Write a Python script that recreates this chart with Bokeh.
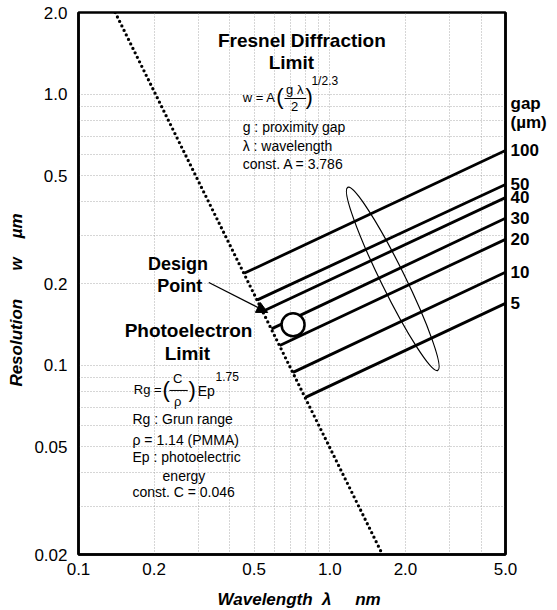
from bokeh.plotting import figure
from bokeh.models import FixedTicker, Label, Arrow, NormalHead, LogAxis
from bokeh.embed import file_html
from bokeh.resources import INLINE

# ---------------- data ----------------
gap_labels = ["100", "50", "40", "30", "20", "10", "5"]
gap_lambda_start = [0.456, 0.515, 0.542, 0.586, 0.632, 0.714, 0.800]
gap_w_start = [0.218, 0.174, 0.158, 0.136, 0.118, 0.094, 0.076]
gap_lambda_end = [5.0, 5.0, 5.0, 5.0, 5.0, 5.0, 5.0]
gap_w_end = [0.619, 0.464, 0.415, 0.348, 0.291, 0.220, 0.169]
gap_header = ["gap", "(µm)"]
gap_header_w = [0.923, 0.785]

photo_lambda = [0.14, 1.62]
photo_w = [2.0, 0.02]

design_lambda = [0.714]
design_w = [0.141]

ellipse_lambda = [1.78]
ellipse_w = [0.208]

arrow_start = (0.330, 0.2017)
arrow_end = (0.566, 0.1563)

x_major = [0.1, 0.2, 0.5, 1.0, 2.0, 5.0]
x_labels = ["0.1", "0.2", "0.5", "1.0", "2.0", "5.0"]
x_minor = [0.3, 0.4, 0.6, 0.7, 0.8, 0.9, 3.0, 4.0]
y_major = [0.02, 0.05, 0.1, 0.2, 0.5, 1.0, 2.0]
y_labels = ["0.02", "0.05", "0.1", "0.2", "0.5", "1.0", "2.0"]
y_minor = [0.03, 0.04, 0.06, 0.07, 0.08, 0.09, 0.3, 0.4, 0.6, 0.7, 0.8, 0.9]

FONT = "Liberation Sans"
NB = "\u00a0"

p = figure(x_axis_type="log", y_axis_type="log",
           x_range=(0.1, 5.0), y_range=(0.02, 2.0),
           frame_width=427, frame_height=542,
           min_border_left=78, min_border_right=52,
           min_border_top=12, min_border_bottom=56,
           output_backend="svg", toolbar_location=None,
           background_fill_color="white", border_fill_color="white")

xt = FixedTicker(ticks=x_major, minor_ticks=x_minor)
yt = FixedTicker(ticks=y_major, minor_ticks=y_minor)
p.xaxis.ticker = xt
p.yaxis.ticker = yt
p.xgrid.ticker = xt
p.ygrid.ticker = yt
p.xaxis.major_label_overrides = {v: t for v, t in zip(x_major, x_labels)}
p.yaxis.major_label_overrides = {v: t for v, t in zip(y_major, y_labels)}

for g in (p.xgrid, p.ygrid):
    g.grid_line_color = "#999999"
    g.grid_line_dash = "1 2"
    g.grid_line_width = 1
    g.grid_line_alpha = 0.8
    g.minor_grid_line_color = "#999999"
    g.minor_grid_line_dash = "1 2"
    g.minor_grid_line_width = 1
    g.minor_grid_line_alpha = 0.8


def style_axis(ax, size="17px", fstyle="normal"):
    ax.axis_line_color = "black"
    ax.axis_line_width = 2.5
    ax.major_tick_line_color = None
    ax.minor_tick_line_color = None
    ax.major_tick_out = 0
    ax.major_tick_in = 0
    ax.minor_tick_out = 0
    ax.minor_tick_in = 0
    ax.major_label_text_font = FONT
    ax.major_label_text_font_size = size
    ax.major_label_text_font_style = fstyle
    ax.major_label_text_color = "black"
    ax.axis_label_text_font = FONT
    ax.axis_label_text_font_size = "17px"
    ax.axis_label_text_font_style = "bold italic"
    ax.axis_label_text_color = "black"


style_axis(p.xaxis[0])
style_axis(p.yaxis[0])

p.xaxis.major_label_standoff = 8
p.xaxis.axis_label_standoff = 12
p.yaxis.major_label_standoff = 11
p.yaxis.axis_label_standoff = 5
p.xaxis.axis_label = NB * 3 + "Wavelength" + NB * 2 + "λ" + NB * 5 + "nm"
p.yaxis.axis_label = "Resolution" + NB * 6 + "w" + NB * 4 + "µm" + NB * 7

# right-hand axis carrying the gap labels at the end of each line
right_ticks = gap_w_end + gap_header_w
right_labels = gap_labels + gap_header
ra = LogAxis(ticker=FixedTicker(ticks=right_ticks, minor_ticks=[]),
             major_label_overrides={v: t for v, t in zip(right_ticks, right_labels)})
style_axis(ra, size="17px", fstyle="bold")
ra.major_label_standoff = 5
p.add_layout(ra, "right")

p.outline_line_color = "black"
p.outline_line_width = 2.5

# ---------------- marks ----------------
p.segment(x0=gap_lambda_start, y0=gap_w_start, x1=gap_lambda_end, y1=gap_w_end,
          line_color="black", line_width=2.8)
p.line(photo_lambda, photo_w, line_color="black", line_width=3.3,
       line_dash="0 5", line_cap="round")
p.ellipse(x=ellipse_lambda, y=ellipse_w, width=204, height=24, angle=2.028,
          width_units="screen", height_units="screen",
          fill_color=None, line_color="black", line_width=1.2)
p.scatter(design_lambda, design_w, marker="circle", size=23,
          fill_color="white", line_color="black", line_width=2.5)

p.add_layout(Arrow(end=NormalHead(size=11, fill_color="black", line_color="black"),
                   x_start=arrow_start[0], y_start=arrow_start[1],
                   x_end=arrow_end[0], y_end=arrow_end[1],
                   line_color="black", line_width=1.3))


def txt(x, y, s, size=14, style="normal", align="left", baseline="middle",
        xo=0, yo=0):
    p.add_layout(Label(x=x, y=y, text=s, text_font=FONT,
                       text_font_size=f"{size}px", text_font_style=style,
                       text_align=align, text_baseline=baseline,
                       text_color="black", x_offset=xo, y_offset=yo))


# Fresnel block
txt(0.774, 1.576, "Fresnel Diffraction", size=19, style="bold", align="center")
txt(0.703, 1.313, "Limit", size=19, style="bold", align="center")
txt(0.450, 0.972, "w = A", size=13)
txt(0.612, 0.980, "(", size=22)
txt(0.725, 1.040, "g λ", size=13, align="center")
p.segment(x0=[0.660], y0=[0.963], x1=[0.805], y1=[0.963], line_color="black", line_width=1)
txt(0.725, 0.900, "2", size=13, align="center")
txt(0.800, 0.980, ")", size=22)
txt(0.845, 1.122, "1/2.3", size=12)
txt(0.450, 0.759, "g : proximity gap", size=14)
txt(0.450, 0.646, "λ : wavelength", size=14)
txt(0.450, 0.554, "const. A = 3.786", size=14)

# Design point
txt(0.249, 0.236, "Design", size=18, style="bold", align="center")
txt(0.2526, 0.1966, "Point", size=18, style="bold", align="center")

# Photoelectron block
txt(0.274, 0.1342, "Photoelectron", size=19, style="bold", align="center")
txt(0.271, 0.1103, "Limit", size=19, style="bold", align="center")
txt(0.166, 0.0813, "Rg =", size=13)
txt(0.216, 0.0813, "(", size=22)
txt(0.248, 0.0892, "C", size=13, align="center")
p.segment(x0=[0.230], y0=[0.0806], x1=[0.272], y1=[0.0806], line_color="black", line_width=1)
txt(0.248, 0.0734, "ρ", size=13, align="center")
txt(0.274, 0.0813, ")", size=22)
txt(0.298, 0.0799, "Ep", size=14)
txt(0.351, 0.0908, "1.75", size=12)
txt(0.164, 0.0635, "Rg : Grun range", size=14)
txt(0.164, 0.0527, "ρ = 1.14 (PMMA)", size=14)
txt(0.164, 0.0456, "Ep : photoelectric", size=14)
txt(0.216, 0.0391, "energy", size=14)
txt(0.164, 0.0339, "const. C = 0.046", size=14)

open("out.html", "w").write(file_html(p, INLINE))
